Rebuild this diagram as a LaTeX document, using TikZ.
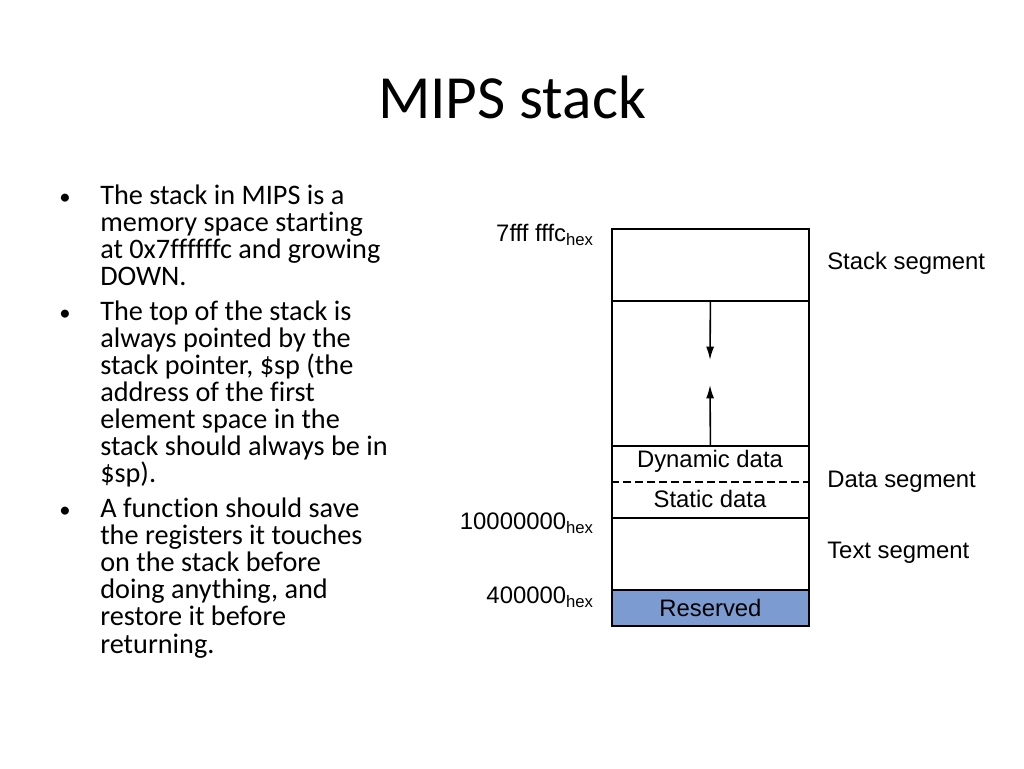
\documentclass[tikz,border=0pt]{standalone}
\usepackage{fontspec}
\setmainfont{Carlito}[Ligatures=NoCommon]
\newfontfamily\arial{Liberation Sans}
\usetikzlibrary{arrows.meta}
\definecolor{resblue}{HTML}{7B9BD1}
\begin{document}
\begin{tikzpicture}[x=0.75pt,y=-0.75pt,
  bl/.style={anchor=base west,inner sep=0,font=\fontsize{21.2}{25}\selectfont},
  dl/.style={inner sep=0,font=\arial\fontsize{17.9}{21}\selectfont},
  seg/.style={draw,line width=1.4pt},
  arr/.style={-{Latex[length=10pt,width=6pt]},line width=1.2pt}]
\useasboundingbox (0,0) rectangle (1024,768);
\node[inner sep=0,font=\fontsize{46}{50}\selectfont] (title) at (512,97) {MIPS stack};
% bullets
\foreach \y [count=\k] in {204,320,517} \node[bl,font=\fontsize{17}{20}\selectfont] (d\k) at (59,\y) {\textbullet};
\foreach \t [count=\i] in {The stack in MIPS is a,memory space starting,at 0x7ffffffc and growing,DOWN.}
  \node[bl] (a\i) at (100,204+27*\i-27) {\t};
\foreach \t [count=\i] in {The top of the stack is,always pointed by the,{stack pointer, \$sp (the},address of the first,element space in the,stack should always be in,\$sp).}
  \node[bl] (b\i) at (100,320+27*\i-27) {\t};
\foreach \t [count=\i] in {A function should save,the registers it touches,on the stack before,{doing anything, and},restore it before,returning.}
  \node[bl] (c\i) at (100,517+27.2*\i-27.2) {\t};
% diagram
\fill[resblue] (611,589) rectangle (808,625);
\node[seg,minimum width=197*0.75pt,minimum height=72*0.75pt,anchor=north west] (s1) at (611,228) {};
\node[seg,minimum width=197*0.75pt,minimum height=145*0.75pt,anchor=north west] (s2) at (611,300) {};
\node[seg,minimum width=197*0.75pt,minimum height=72*0.75pt,anchor=north west] (s3) at (611,445) {};
\node[seg,minimum width=197*0.75pt,minimum height=72*0.75pt,anchor=north west] (s4) at (611,517) {};
\node[seg,minimum width=197*0.75pt,minimum height=36*0.75pt,anchor=north west] (s5) at (611,589) {};
\draw[dash pattern=on 6pt off 3pt,line width=1pt] (s3.west) -- (s3.east);
\coordinate (dn) at (710,360);
\coordinate (up) at (710,385);
\draw[arr] (s2.north) -- (dn);
\draw[arr] (s2.south) -- (up);
\node[dl] at (710,461) {Dynamic data};
\node[dl] at (710,499) {Static data};
\node[dl] at (s5.center) {Reserved};
\node[dl,anchor=west] at (827,263) {Stack segment};
\node[dl,anchor=west] at (827,482) {Data segment};
\node[dl,anchor=west] at (827,553) {Text segment};
\node[dl,anchor=east] at (594,235) {7fff fffc\textsubscript{hex}};
\node[dl,anchor=east] at (594,523) {10000000\textsubscript{hex}};
\node[dl,anchor=east] at (594,597) {400000\textsubscript{hex}};
\end{tikzpicture}
\end{document}
